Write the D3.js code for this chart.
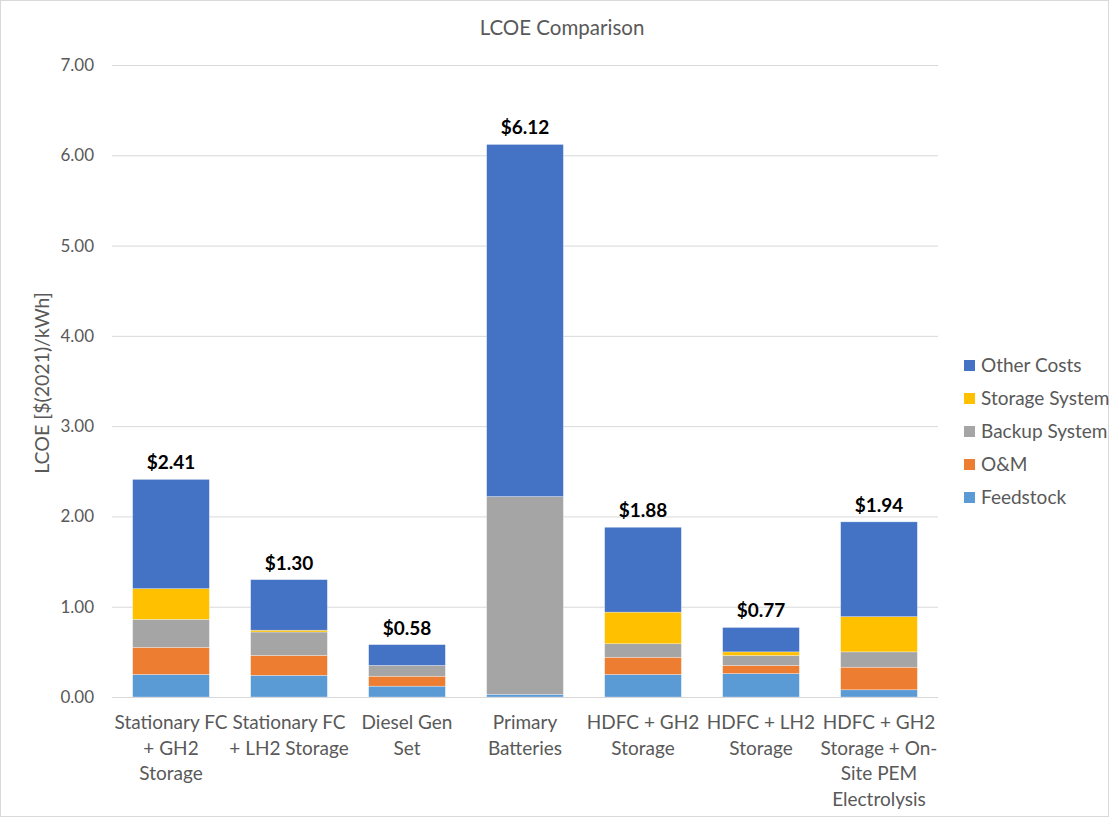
<!DOCTYPE html>
<html>
<head>
<meta charset="utf-8">
<script src="https://cdn.jsdelivr.net/npm/d3@7"></script>
<style>
  body { margin: 0; background: #fff; }
  text { font-family: Lato, "Open Sans", sans-serif; }
</style>
</head>
<body>
<div id="root"></div>
<script>
// categories (lines of each x label)
var categories = [
  ["Stationary FC", "+ GH2", "Storage"],
  ["Stationary FC", "+ LH2 Storage"],
  ["Diesel Gen", "Set"],
  ["Primary", "Batteries"],
  ["HDFC + GH2", "Storage"],
  ["HDFC + LH2", "Storage"],
  ["HDFC + GH2", "Storage + On-", "Site PEM", "Electrolysis"]
];

// series values, $(2021)/kWh
var feedstock     = [0.25, 0.24, 0.12, 0.03, 0.25, 0.26, 0.08];
var oAndM         = [0.30, 0.22, 0.11, 0.00, 0.19, 0.09, 0.25];
var backupSystem  = [0.31, 0.26, 0.12, 2.19, 0.15, 0.11, 0.17];
var storageSystem = [0.34, 0.02, 0.00, 0.00, 0.35, 0.04, 0.39];
var otherCosts    = [1.21, 0.56, 0.23, 3.90, 0.94, 0.27, 1.05];

var seriesNames = ["Feedstock", "O&M", "Backup System", "Storage System", "Other Costs"];
var seriesColors = ["#5B9BD5", "#ED7D31", "#A5A5A5", "#FFC000", "#4472C4"];

var yTicks = [0, 1, 2, 3, 4, 5, 6, 7];

function drawChart() {
  var W = 1109, H = 817;
  var margin = {top: 65, left: 112, right: 171, bottom: 120};
  var width = W - margin.left - margin.right,
      height = H - margin.top - margin.bottom;

  var svg = d3.select("#root").append("svg")
      .attr("width", W)
      .attr("height", H);

  // outer border
  svg.append("rect")
    .attr("x", 0.5).attr("y", 0.5)
    .attr("width", W - 1).attr("height", H - 1)
    .attr("fill", "#fff").attr("stroke", "#d9d9d9");

  var g = svg.append("g")
      .attr("transform", "translate(" + margin.left + "," + margin.top + ")");

  var rows = categories.map(function(c, i) {
    return {
      idx: i,
      "Feedstock": feedstock[i],
      "O&M": oAndM[i],
      "Backup System": backupSystem[i],
      "Storage System": storageSystem[i],
      "Other Costs": otherCosts[i]
    };
  });

  var x = d3.scaleBand()
      .domain(d3.range(categories.length))
      .range([0, width])
      .paddingInner(0.35)
      .paddingOuter(0.175);
  var y = d3.scaleLinear()
      .domain([0, 7])
      .range([height, 0]);

  // gridlines
  g.append("g").selectAll("line")
    .data(yTicks)
    .enter().append("line")
    .attr("x1", 0).attr("x2", width)
    .attr("y1", function(d) { return y(d) + 0.5; })
    .attr("y2", function(d) { return y(d) + 0.5; })
    .attr("stroke", "#d9d9d9")
    .attr("stroke-width", 1);

  // y axis labels
  var yAxis = g.append("g")
    .call(d3.axisLeft(y).tickValues(yTicks).tickFormat(d3.format(".2f")).tickSize(0).tickPadding(18));
  yAxis.select(".domain").remove();
  yAxis.selectAll("text")
    .attr("fill", "#595959")
    .style("font-size", "17px");

  // stacked bars
  var stack = d3.stack().keys(seriesNames);
  var layers = stack(rows);

  g.append("g").selectAll("g")
    .data(layers)
    .enter().append("g")
    .attr("fill", function(d, i) { return seriesColors[i]; })
    .selectAll("rect")
    .data(function(d) { return d; })
    .enter().append("rect")
    .attr("x", function(d) { return x(d.data.idx); })
    .attr("width", x.bandwidth())
    .attr("y", function(d) { return y(d[1]); })
    .attr("height", function(d) { return y(d[0]) - y(d[1]); })
    .attr("stroke", "#ffffff")
    .attr("stroke-opacity", 0.5)
    .attr("stroke-width", 0.6);

  // x axis line
  g.append("line")
    .attr("x1", 0).attr("x2", width)
    .attr("y1", height + 0.5).attr("y2", height + 0.5)
    .attr("stroke", "#d9d9d9");

  // total labels
  var totals = rows.map(function(r) {
    return d3.sum(seriesNames, function(k) { return r[k]; });
  });
  g.append("g").selectAll("text")
    .data(totals)
    .enter().append("text")
    .attr("x", function(d, i) { return x(i) + x.bandwidth() / 2; })
    .attr("y", function(d) { return y(d) - 10; })
    .attr("text-anchor", "middle")
    .style("font-size", "19px")
    .style("font-weight", "bold")
    .attr("fill", "#000")
    .text(function(d) { return "$" + d3.format(".2f")(d); });

  // x labels
  var xl = g.append("g").selectAll("text")
    .data(categories)
    .enter().append("text")
    .attr("text-anchor", "middle")
    .attr("fill", "#595959")
    .style("font-size", "19px")
    .attr("transform", function(d, i) {
      return "translate(" + (x(i) + x.bandwidth() / 2) + "," + (height + 32) + ")";
    });
  xl.selectAll("tspan")
    .data(function(d) { return d; })
    .enter().append("tspan")
    .attr("x", 0)
    .attr("y", function(d, j) { return j * 25.5; })
    .text(function(d) { return d; });

  // y axis title
  svg.append("text")
    .attr("transform", "translate(49," + (margin.top + height / 2 + 2) + ") rotate(-90)")
    .attr("text-anchor", "middle")
    .attr("fill", "#595959")
    .style("font-size", "19.5px")
    .text("LCOE [$(2021)/kWh]");

  // chart title
  svg.append("text")
    .attr("x", 562).attr("y", 35)
    .attr("text-anchor", "middle")
    .attr("fill", "#595959")
    .style("font-size", "20.5px")
    .text("LCOE Comparison");

  // legend
  var legendOrder = seriesNames.slice().reverse();
  var legend = svg.append("g").selectAll("g")
    .data(legendOrder)
    .enter().append("g")
    .attr("transform", function(d, i) { return "translate(964," + (360 + i * 33) + ")"; });
  legend.append("rect")
    .attr("width", 11).attr("height", 11)
    .attr("fill", function(d) { return seriesColors[seriesNames.indexOf(d)]; });
  legend.append("text")
    .attr("x", 17).attr("y", 12)
    .attr("fill", "#595959")
    .style("font-size", "19px")
    .text(function(d) { return d; });
}

drawChart();
</script>
</body>
</html>
